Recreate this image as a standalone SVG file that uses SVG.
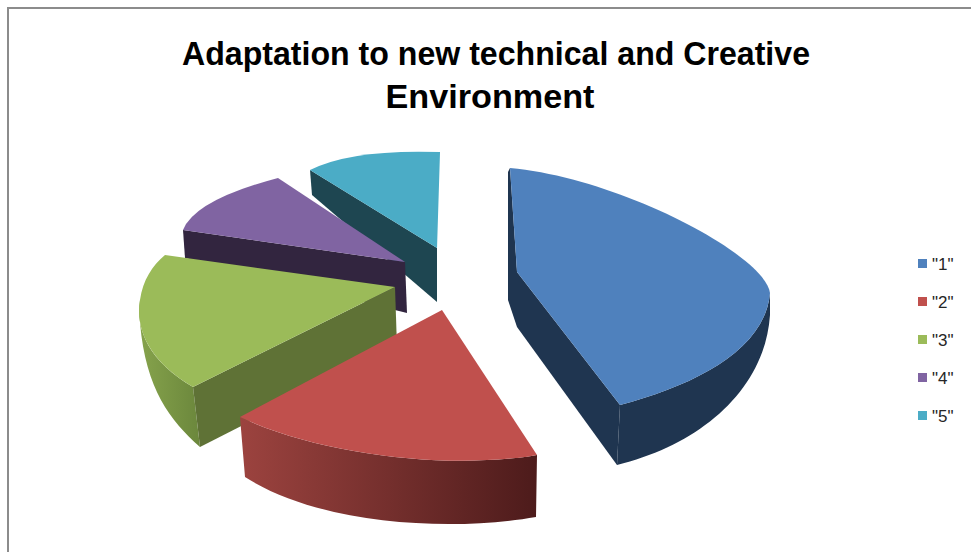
<svg xmlns="http://www.w3.org/2000/svg" width="971" height="552" viewBox="0 0 971 552">
<style>
.title{font-family:"Liberation Sans",Arial,sans-serif;font-weight:bold;font-size:33px;fill:#000;text-anchor:middle}
.leg{font-family:"Liberation Sans",Arial,sans-serif;font-size:17px;fill:#262626}
.frame{stroke:#8c8c8c;stroke-width:2;fill:none}
</style>
<defs>
<linearGradient id="redWall" x1="0" y1="0" x2="1" y2="0">
<stop offset="0" stop-color="#9c433f"/><stop offset="1" stop-color="#4d1b1b"/>
</linearGradient>
<linearGradient id="greenWall" x1="0" y1="0" x2="1" y2="0">
<stop offset="0" stop-color="#86a34c"/><stop offset="1" stop-color="#6b873c"/>
</linearGradient>
</defs>
<rect width="971" height="552" fill="#fff"/>
<path class="frame" d="M8,552 V8 H971"/>
<text class="title" x="496" y="65" textLength="628" lengthAdjust="spacingAndGlyphs">Adaptation to new technical and Creative</text>
<text class="title" x="490" y="108" textLength="209" lengthAdjust="spacingAndGlyphs">Environment</text>

<g id="slice5">
<path d="M310,170 L437,248 L437,302 L312,195 Z" fill="#1e4651"/>
<path d="M310,170 Q351,149 440,152 L437,248 Z" fill="#4bacc6"/>
</g>
<g id="slice4">
<path d="M183,230 L405,262 L407,313 L185,258 Z" fill="#32253f"/>
<path d="M183,230 Q195,200 278,178 L405,262 Z" fill="#8064a2"/>
</g>
<g id="slice3">
<path d="M140,300 C135,330 150,362 193,387 L200,447 C170,420 146,390 140,323 Z" fill="url(#greenWall)"/>
<path d="M193,387 L395,287 L397,347 L200,447 Z" fill="#5f7236"/>
<path d="M165,255 L395,287 L193,387 C150,362 135,330 140,300 C143,280 152,266 165,255 Z" fill="#9bbb59"/>
</g>
<g id="slice2">
<path d="M240,417 C320,455 450,470 537,455 L536,517 C450,532 320,525 245,477 Z" fill="url(#redWall)"/>
<path d="M442,310 L537,455 C450,470 320,455 240,417 Z" fill="#c0504d"/>
</g>
<g id="slice1">
<path d="M517,272 L620,405 L617,465 L517,327 Z" fill="#1f3550"/>
<path d="M508,172 L510,168 L517,272 L517,327 L508,300 Z" fill="#1f3550"/>
<path d="M620,405 C695,385 765,350 770,293 L770,315 C765,390 700,445 617,465 Z" fill="#1f3550"/>
<path d="M510,168 L517,272 L620,405 C695,385 765,350 770,293 C765,255 620,178 510,168 Z" fill="#4f81bd"/>
</g>

<g id="legend">
<rect x="918" y="259" width="9" height="9" fill="#4f81bd"/>
<text class="leg" x="932" y="270">"1"</text>
<rect x="918" y="297" width="9" height="9" fill="#c0504d"/>
<text class="leg" x="932" y="308">"2"</text>
<rect x="918" y="335" width="9" height="9" fill="#9bbb59"/>
<text class="leg" x="932" y="346">"3"</text>
<rect x="918" y="373" width="9" height="9" fill="#8064a2"/>
<text class="leg" x="932" y="384">"4"</text>
<rect x="918" y="411" width="9" height="9" fill="#4bacc6"/>
<text class="leg" x="932" y="422">"5"</text>
</g>
</svg>
